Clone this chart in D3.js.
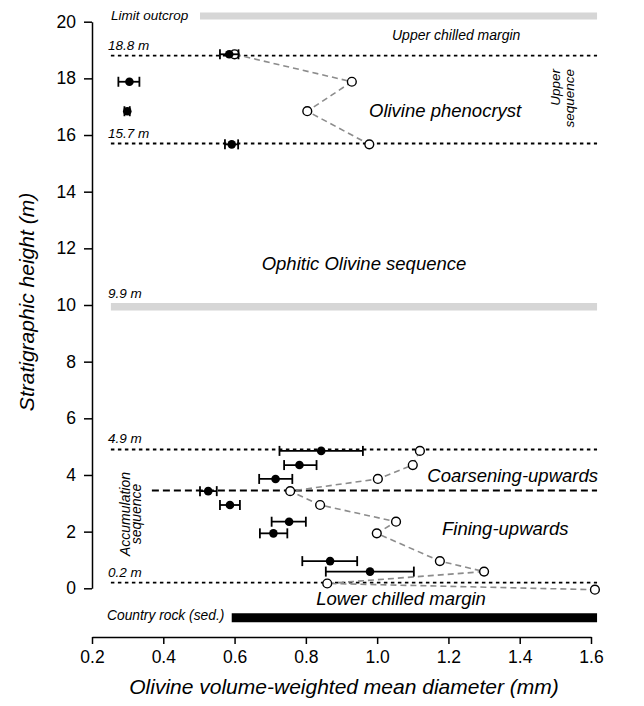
<!DOCTYPE html>
<html>
<head>
<meta charset="utf-8">
<script src="https://cdn.jsdelivr.net/npm/d3@7"></script>
<style>
    body { margin: 0; background: #fff; }
    svg text { font-family: "Liberation Sans", Arial, sans-serif; }
</style>
</head>
<body>
<div id="chart"></div>
<script>
    // upper sequence, filled = mean with error bar, open = second estimate
    const upperHeight = [18.85, 17.88, 16.84, 15.67];
    const upperMean = [0.585, 0.305, 0.299, 0.592];
    const upperLow = [0.559, 0.274, 0.291, 0.573];
    const upperHigh = [0.611, 0.333, 0.306, 0.610];
    const upperOpen = [0.600, 0.929, 0.804, 0.978];

    // accumulation sequence
    const lowerHeight = [4.85, 4.35, 3.86, 3.43, 2.94, 2.35, 1.94, 0.96, 0.59];
    const lowerMean = [0.843, 0.782, 0.715, 0.526, 0.587, 0.753, 0.709, 0.868, 0.980];
    const lowerLow = [0.726, 0.739, 0.669, 0.503, 0.559, 0.704, 0.671, 0.790, 0.856];
    const lowerHigh = [0.960, 0.830, 0.762, 0.550, 0.615, 0.800, 0.748, 0.944, 1.103];
    const lowerOpenHeight = [4.85, 4.35, 3.86, 3.43, 2.94, 2.35, 1.94, 0.96, 0.59, 0.17, -0.05];
    const lowerOpen = [1.120, 1.100, 1.002, 0.756, 0.840, 1.053, 0.999, 1.176, 1.300, 0.860, 1.611];

    // unit boundaries
    const boundaryHeights = [18.8, 15.7, 4.9, 0.2];
    const boundaryLabels = ["18.8 m", "15.7 m", "4.9 m", "0.2 m"];
    const subBoundary = 3.45;

    const xTicks = [0.2, 0.4, 0.6, 0.8, 1.0, 1.2, 1.4, 1.6];
    const yTicks = [0, 2, 4, 6, 8, 10, 12, 14, 16, 18, 20];

    const width = 644, height = 706;

    const svg = d3.select("#chart").append("svg")
        .attr("width", width)
        .attr("height", height);

    const xScale = d3.scaleLinear().domain([0.2, 1.6]).range([92, 591]);
    const yScale = d3.scaleLinear().domain([0, 20]).range([588.3, 21.7]);

    const xLeft = xScale(0.253), xRight = xScale(1.617);

    // gray bars (limit of outcrop, 9.9 m) and country rock
    svg.append("line")
        .attr("x1", xScale(0.503)).attr("x2", xRight)
        .attr("y1", yScale(20.2)).attr("y2", yScale(20.2))
        .attr("stroke", "#d6d6d6").attr("stroke-width", 7);
    svg.append("line")
        .attr("x1", xLeft).attr("x2", xRight)
        .attr("y1", yScale(9.94)).attr("y2", yScale(9.94))
        .attr("stroke", "#d6d6d6").attr("stroke-width", 7.5);
    svg.append("line")
        .attr("x1", xScale(0.592)).attr("x2", xRight)
        .attr("y1", yScale(-1.04)).attr("y2", yScale(-1.04))
        .attr("stroke", "#000").attr("stroke-width", 9);

    // dotted boundaries
    svg.selectAll(".boundary")
        .data(boundaryHeights)
        .enter()
        .append("line")
        .attr("class", "boundary")
        .attr("x1", xLeft).attr("x2", xRight)
        .attr("y1", d => yScale(d)).attr("y2", d => yScale(d))
        .attr("stroke", "#000")
        .attr("stroke-width", 1.8)
        .attr("stroke-dasharray", "3.5,3.5");

    svg.append("line")
        .attr("x1", xScale(0.368)).attr("x2", xRight)
        .attr("y1", yScale(subBoundary)).attr("y2", yScale(subBoundary))
        .attr("stroke", "#000")
        .attr("stroke-width", 2)
        .attr("stroke-dasharray", "7,4");

    // grey dashed lines through open circles
    const line = d3.line().x(d => xScale(d[0])).y(d => yScale(d[1]));
    [d3.zip(upperOpen, upperHeight), d3.zip(lowerOpen, lowerOpenHeight)].forEach(pts => {
        svg.append("path")
            .attr("d", line(pts))
            .attr("fill", "none")
            .attr("stroke", "#8c8c8c")
            .attr("stroke-width", 1.6)
            .attr("stroke-dasharray", "6,4");
    });

    // open circles
    const openPts = d3.zip(upperOpen, upperHeight).concat(d3.zip(lowerOpen, lowerOpenHeight));
    svg.selectAll(".open")
        .data(openPts)
        .enter()
        .append("circle")
        .attr("class", "open")
        .attr("cx", d => xScale(d[0]))
        .attr("cy", d => yScale(d[1]))
        .attr("r", 4.4)
        .attr("fill", "#fff")
        .attr("stroke", "#000")
        .attr("stroke-width", 1.4);

    // filled circles with error bars
    const filled = d3.zip(upperMean, upperHeight, upperLow, upperHigh)
        .concat(d3.zip(lowerMean, lowerHeight, lowerLow, lowerHigh));

    const eb = svg.selectAll(".eb")
        .data(filled)
        .enter()
        .append("g")
        .attr("class", "eb");
    eb.append("line")
        .attr("x1", d => xScale(d[2])).attr("x2", d => xScale(d[3]))
        .attr("y1", d => yScale(d[1])).attr("y2", d => yScale(d[1]))
        .attr("stroke", "#000").attr("stroke-width", 1.8);
    eb.append("line")
        .attr("x1", d => xScale(d[2])).attr("x2", d => xScale(d[2]))
        .attr("y1", d => yScale(d[1]) - 5).attr("y2", d => yScale(d[1]) + 5)
        .attr("stroke", "#000").attr("stroke-width", 1.8);
    eb.append("line")
        .attr("x1", d => xScale(d[3])).attr("x2", d => xScale(d[3]))
        .attr("y1", d => yScale(d[1]) - 5).attr("y2", d => yScale(d[1]) + 5)
        .attr("stroke", "#000").attr("stroke-width", 1.8);
    eb.append("circle")
        .attr("cx", d => xScale(d[0]))
        .attr("cy", d => yScale(d[1]))
        .attr("r", 4.3)
        .attr("fill", "#000");

    // axes
    const xAxis = d3.axisBottom(xScale)
        .tickValues(xTicks)
        .tickFormat(d3.format(".1f"))
        .tickSize(7)
        .tickSizeOuter(0)
        .tickPadding(7);
    const yAxis = d3.axisLeft(yScale)
        .tickValues(yTicks)
        .tickFormat(d3.format("d"))
        .tickSize(8)
        .tickSizeOuter(0)
        .tickPadding(8);

    svg.append("g")
        .attr("transform", "translate(0,637)")
        .call(xAxis)
        .call(g => g.selectAll("path, line").attr("stroke-width", 1.5))
        .call(g => g.selectAll("text").attr("font-size", 17.5).attr("fill", "#000")
            .attr("font-family", "'Liberation Sans', Arial, sans-serif"));
    svg.append("g")
        .attr("transform", "translate(92,0)")
        .call(yAxis)
        .call(g => g.selectAll("path, line").attr("stroke-width", 1.5))
        .call(g => g.selectAll("text").attr("font-size", 17.5).attr("fill", "#000")
            .attr("font-family", "'Liberation Sans', Arial, sans-serif"));

    svg.append("text")
        .attr("x", 344).attr("y", 694)
        .attr("text-anchor", "middle")
        .attr("font-size", 21).attr("font-style", "italic")
        .text("Olivine volume-weighted mean diameter (mm)");
    svg.append("text")
        .attr("transform", "translate(34,302) rotate(-90)")
        .attr("text-anchor", "middle")
        .attr("font-size", 21).attr("font-style", "italic")
        .text("Stratigraphic height (m)");

    // annotations
    function note(x, y, txt, size, anchor) {
        return svg.append("text")
            .attr("x", x).attr("y", y)
            .attr("text-anchor", anchor || "start")
            .attr("font-size", size)
            .attr("font-style", "italic")
            .text(txt);
    }

    boundaryLabels.forEach((t, i) => note(108, yScale(boundaryHeights[i]) - 6, t, 13.5));
    note(108, yScale(9.94) - 9, "9.9 m", 13.5);
    note(111, 20, "Limit outcrop", 13.5);
    note(107, 620, "Country rock (sed.)", 13.8);
    note(392, 40, "Upper chilled margin", 14);
    note(369, 117, "Olivine phenocryst", 18.5);
    note(364, 270, "Ophitic Olivine sequence", 18.5, "middle");
    note(598, 482, "Coarsening-upwards", 18.5, "end");
    note(442, 535, "Fining-upwards", 18.5);
    note(401, 605, "Lower chilled margin", 18.5, "middle");

    svg.append("text")
        .attr("transform", "translate(560,69) rotate(-90)")
        .attr("text-anchor", "end").attr("font-size", 13.5).attr("font-style", "italic")
        .text("Upper");
    svg.append("text")
        .attr("transform", "translate(573.5,69) rotate(-90)")
        .attr("text-anchor", "end").attr("font-size", 13.5).attr("font-style", "italic")
        .text("sequence");
    svg.append("text")
        .attr("transform", "translate(129.5,514) rotate(-90)")
        .attr("text-anchor", "middle").attr("font-size", 14).attr("font-style", "italic")
        .text("Accumulation");
    svg.append("text")
        .attr("transform", "translate(140.5,514) rotate(-90)")
        .attr("text-anchor", "middle").attr("font-size", 14).attr("font-style", "italic")
        .text("sequence");
</script>
</body>
</html>
